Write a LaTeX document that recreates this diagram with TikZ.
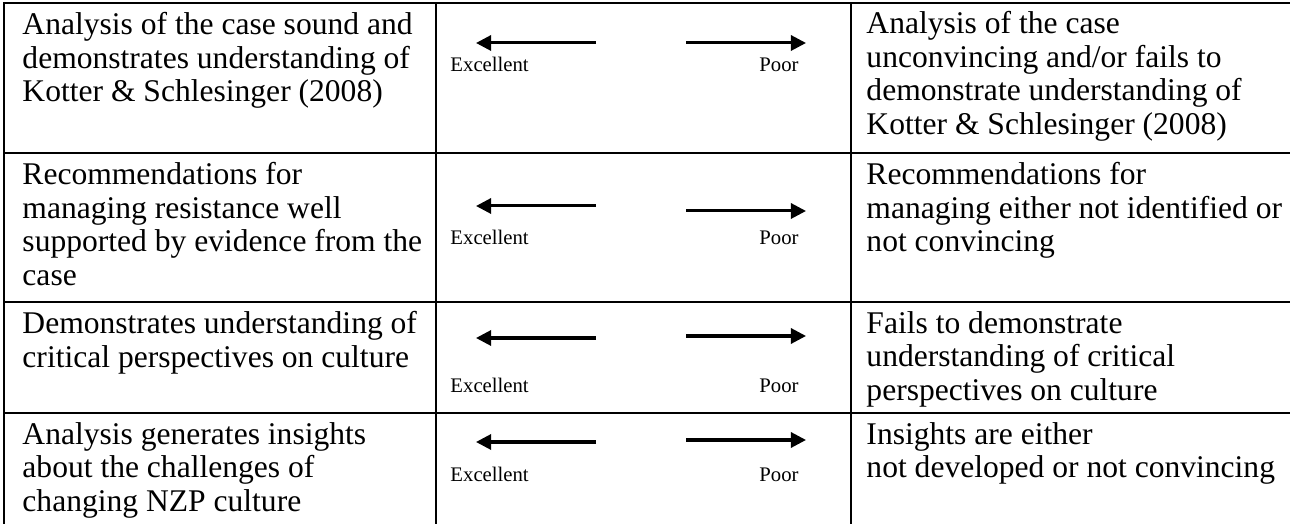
\documentclass[tikz,border=0pt]{standalone}
\usepackage{fontspec}
\setmainfont{Liberation Serif}
\usetikzlibrary{arrows.meta}

\begin{document}
\begin{tikzpicture}[x=0.415pt, y=-0.415pt,
  rule/.style={line width=1.1pt},
  cell/.style={anchor=north west, inner sep=0pt, align=left, font=\fontsize{13.1}{13.9}\selectfont},
  scalelabel/.style={inner sep=0pt, font=\fontsize{8.6}{10}\selectfont},
  scalearrow/.style={line width=1.25pt, -{Triangle[length=6.3pt, width=6.3pt]}}]
  % page size of the reference
  \useasboundingbox (0,0) rectangle (1290,524);

  % table rules (no right or bottom border)
  \draw[rule] (1290,3) -- (4,3) -- (4,524);
  \draw[rule] (4,153) -- (1290,153);
  \draw[rule] (4,302) -- (1290,302);
  \draw[rule] (4,413) -- (1290,413);
  \draw[rule] (436,3) -- (436,524);
  \draw[rule] (851,3) -- (851,524);

  % left column
  \node[cell] (strong1) at (22,12) {Analysis of the case sound and\\demonstrates understanding of\\Kotter \& Schlesinger (2008)};
  \node[cell] (strong2) at (22,162) {Recommendations for\\managing resistance well\\supported by evidence from the\\case};
  \node[cell] (strong3) at (22,311) {Demonstrates understanding of\\critical perspectives on culture};
  \node[cell] (strong4) at (22,422) {Analysis generates insights\\about the challenges of\\changing NZP culture};

  % right column
  \node[cell] (weak1) at (866,11) {Analysis of the case\\unconvincing and/or fails to\\demonstrate understanding of\\Kotter \& Schlesinger (2008)};
  \node[cell] (weak2) at (866,162) {Recommendations for\\managing either not identified or\\not convincing};
  \node[cell] (weak3) at (866,311) {Fails to demonstrate\\understanding of critical\\perspectives on culture};
  \node[cell] (weak4) at (866,422) {Insights are either\\not developed or not convincing};

  % middle column: scale arrows
  \foreach \r/\ly/\ry/\lb in {1/43/43/72, 2/206/211/245, 3/338/336/393, 4/442/440/482} {
    \coordinate (exfrom\r) at (596,\ly);
    \coordinate (exto\r) at (476,\ly);
    \coordinate (pofrom\r) at (686,\ry);
    \coordinate (poto\r) at (806,\ry);
    \draw[scalearrow] (exfrom\r) -- (exto\r);
    \draw[scalearrow] (pofrom\r) -- (poto\r);
    \node[scalelabel, anchor=base west] (excellent\r) at (450,\lb) {Excellent};
    \node[scalelabel, anchor=base east] (poor\r) at (799,\lb) {Poor};
  }
\end{tikzpicture}
\end{document}
